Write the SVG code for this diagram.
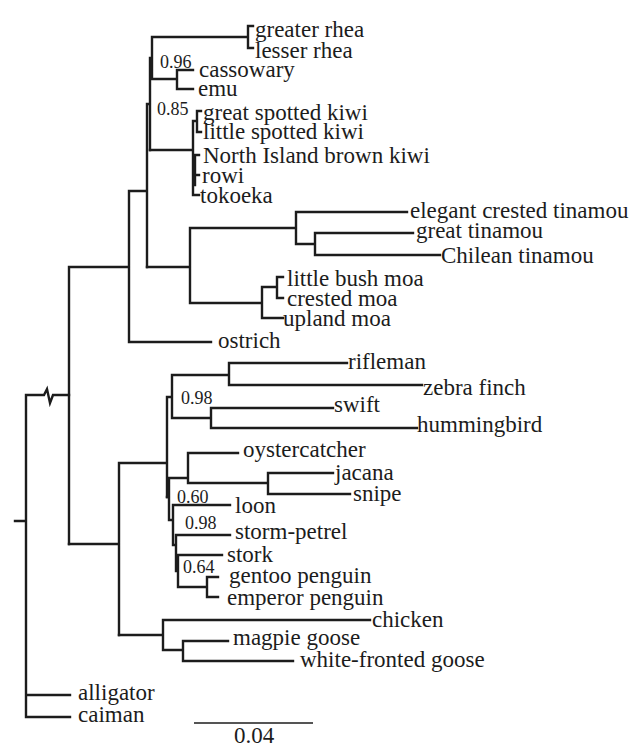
<svg xmlns="http://www.w3.org/2000/svg" width="638" height="744" viewBox="0 0 638 744">
<style>
.br{fill:none;stroke:#1c1c1c;stroke-width:2.4;stroke-linecap:square;stroke-linejoin:miter}
.sb{fill:none;stroke:#1c1c1c;stroke-width:1.6}
text{font-family:"Liberation Serif","Times New Roman",serif;fill:#1c1c1c}
.lb{font-size:23px}
.sp{font-size:18px}
</style>
<rect width="638" height="744" fill="#fff"/>
<g id="connectors">
<path class="br" d="M15,521 H26 M26,395 V717 M26,695 H70 M26,717 H70 M26,395 H44 L47,389 L50,403 L53,395 H69"/>
<path class="br" d="M69,267 V544 M69,267 H129 M129,191 V342 M129,342 H211 M129,191 H147 M147,104 V267 M147,104 H150 M150,58 V150 M150,58 H152 M152,37 V79 M152,37 H248 M248,26 V48 M248,26 H253 M248,48 H253 M152,79 H177 M177,70 V89 M177,70 H193 M177,89 H193"/>
<path class="br" d="M150,150 H193 M193,121 V195 M195,155 V185 M193,121 H197 M197,111 V132 M197,111 H201 M197,132 H201 M193,155 H199 M193,175 H199 M193,195 H199"/>
<path class="br" d="M147,267 H190 M190,228 V303 M190,228 H296 M296,212 V244 M296,212 H407 M296,244 H315 M315,233 V255 M315,233 H413 M315,255 H440 M190,303 H262 M262,287 V318 M262,287 H277 M277,277 V298 M277,277 H283 M277,298 H283 M262,318 H283"/>
<path class="br" d="M69,544 H119 M119,463 V635 M119,463 H167 M167,397 V497 M167,397 H172 M172,375 V418 M172,375 H229 M229,363 V385 M229,363 H347 M229,385 H422 M172,418 H211 M211,408 V428 M211,408 H333 M211,428 H417"/>
<path class="br" d="M167,497 H169 M169,478 V520 M169,478 H188 M188,453 V483 M188,453 H238 M188,483 H268 M268,473 V494 M268,473 H333 M268,494 H350 M169,520 H173 M173,505 V545 M173,505 H230 M173,545 H176 M176,535 V571 M176,535 H230 M176,571 H178 M178,555 V587 M178,555 H222 M178,587 H207 M207,577 V597 M207,577 H218 M207,597 H218"/>
<path class="br" d="M119,635 H163 M163,620 V650 M163,620 H370 M163,650 H183 M183,641 V661 M183,641 H228 M183,661 H293"/>
</g>
<g id="greater-rhea"><text class="lb" x="255" y="37">greater rhea</text></g>
<g id="lesser-rhea"><text class="lb" x="255" y="58">lesser rhea</text></g>
<g id="cassowary"><text class="lb" x="199" y="77">cassowary</text></g>
<g id="emu"><text class="lb" x="198" y="96">emu</text></g>
<g id="great-spotted-kiwi"><text class="lb" x="203" y="120">great spotted kiwi</text></g>
<g id="little-spotted-kiwi"><text class="lb" x="203" y="139">little spotted kiwi</text></g>
<g id="north-island-brown-kiwi"><text class="lb" x="203" y="163">North Island brown kiwi</text></g>
<g id="rowi"><text class="lb" x="202" y="183">rowi</text></g>
<g id="tokoeka"><text class="lb" x="200" y="203">tokoeka</text></g>
<g id="elegant-crested-tinamou"><text class="lb" x="410" y="218">elegant crested tinamou</text></g>
<g id="great-tinamou"><text class="lb" x="416" y="238">great tinamou</text></g>
<g id="chilean-tinamou"><text class="lb" x="441" y="263">Chilean tinamou</text></g>
<g id="little-bush-moa"><text class="lb" x="287" y="286">little bush moa</text></g>
<g id="crested-moa"><text class="lb" x="287" y="306">crested moa</text></g>
<g id="upland-moa"><text class="lb" x="283" y="326">upland moa</text></g>
<g id="ostrich"><text class="lb" x="218" y="348">ostrich</text></g>
<g id="rifleman"><text class="lb" x="348" y="369">rifleman</text></g>
<g id="zebra-finch"><text class="lb" x="423" y="395">zebra finch</text></g>
<g id="swift"><text class="lb" x="334" y="412">swift</text></g>
<g id="hummingbird"><text class="lb" x="417" y="432">hummingbird</text></g>
<g id="oystercatcher"><text class="lb" x="243" y="457">oystercatcher</text></g>
<g id="jacana"><text class="lb" x="335" y="480">jacana</text></g>
<g id="snipe"><text class="lb" x="353" y="501">snipe</text></g>
<g id="loon"><text class="lb" x="235" y="513">loon</text></g>
<g id="storm-petrel"><text class="lb" x="235" y="539">storm-petrel</text></g>
<g id="stork"><text class="lb" x="227" y="562">stork</text></g>
<g id="gentoo-penguin"><text class="lb" x="229" y="583">gentoo penguin</text></g>
<g id="emperor-penguin"><text class="lb" x="227" y="605">emperor penguin</text></g>
<g id="chicken"><text class="lb" x="372" y="627">chicken</text></g>
<g id="magpie-goose"><text class="lb" x="233" y="645">magpie goose</text></g>
<g id="white-fronted-goose"><text class="lb" x="300" y="667">white-fronted goose</text></g>
<g id="alligator"><text class="lb" x="78" y="700">alligator</text></g>
<g id="caiman"><text class="lb" x="78" y="722">caiman</text></g>
<g id="supports">
<text class="sp" x="160" y="68">0.96</text>
<text class="sp" x="157" y="115">0.85</text>
<text class="sp" x="181" y="404">0.98</text>
<text class="sp" x="177" y="503">0.60</text>
<text class="sp" x="185" y="529">0.98</text>
<text class="sp" x="183" y="573">0.64</text>
</g>
<g id="scale-bar">
<path class="sb" d="M194,723 H313"/>
<text class="lb" x="254" y="743" text-anchor="middle">0.04</text>
</g>
</svg>
